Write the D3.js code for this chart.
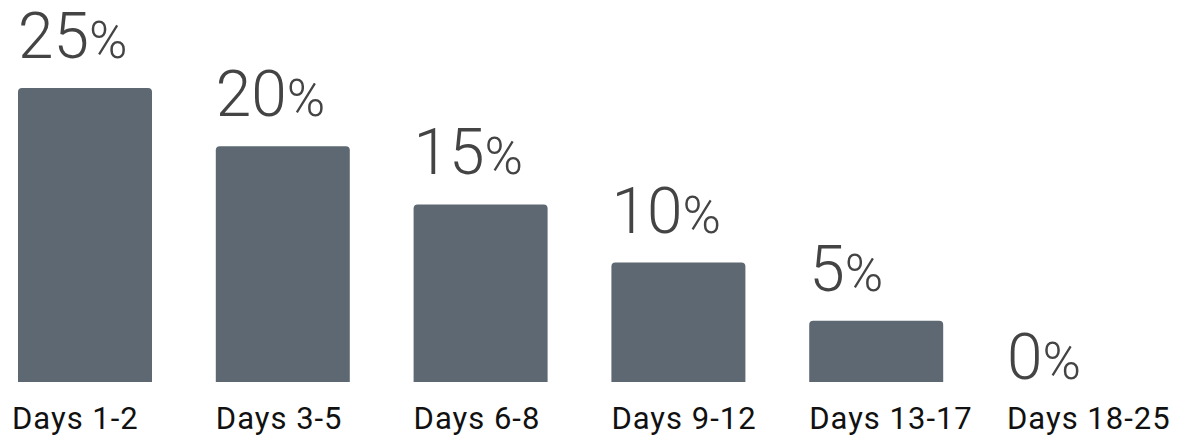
<!DOCTYPE html>
<html>
<head>
<meta charset="utf-8">
<title>Days bar chart</title>
<script src="https://cdn.jsdelivr.net/npm/d3@7/dist/d3.min.js"></script>
<style>
  body { margin: 0; background: #fff; }
  svg { display: block; font-family: Roboto, sans-serif; }
  .val { font-family: "Roboto Light", Roboto, sans-serif; font-weight: 300; }
</style>
</head>
<body>
<script>
  // data
  var categories = ["Days 1-2", "Days 3-5", "Days 6-8", "Days 9-12", "Days 13-17", "Days 18-25"];
  var values = [25, 20, 15, 10, 5, 0];

  var width = 1190, height = 436;
  var baseline = 382;

  var svg = d3.select("body").append("svg")
    .attr("width", width)
    .attr("height", height);

  var x = d3.scaleBand()
    .domain(categories)
    .range([18, 1141])
    .paddingInner(0.3226)
    .paddingOuter(0);

  var y = d3.scaleLinear()
    .domain([0, 25])
    .range([379, 88]);

  var data = categories.map(function(c, i) { return { name: c, value: values[i] }; });

  // bar with rounded top corners only
  function barPath(d) {
    var x0 = x(d.name), w = x.bandwidth(), top = y(d.value), r = 4;
    return "M" + x0 + "," + baseline +
      "V" + (top + r) +
      "Q" + x0 + "," + top + " " + (x0 + r) + "," + top +
      "H" + (x0 + w - r) +
      "Q" + (x0 + w) + "," + top + " " + (x0 + w) + "," + (top + r) +
      "V" + baseline + "Z";
  }

  svg.selectAll(".bar")
    .data(data.filter(function(d) { return d.value > 0; }))
    .enter()
    .append("path")
    .attr("class", "bar")
    .attr("d", barPath)
    .attr("fill", "#5e6873");

  // value labels
  var label = svg.selectAll(".val")
    .data(data)
    .enter()
    .append("text")
    .attr("class", "val")
    .attr("x", function(d) { return x(d.name); })
    .attr("y", function(d) { return d.value > 0 ? y(d.value) - 30 : baseline - 3; })
    .attr("fill", "#444")
    .attr("font-size", "64px");

  label.append("tspan").text(function(d) { return d.value; });
  label.append("tspan").attr("font-size", "52px").text("%");

  // category labels
  svg.selectAll(".cat")
    .data(data)
    .enter()
    .append("text")
    .attr("class", "cat")
    .attr("x", function(d, i) { return i === 0 ? x(d.name) - 6 : x(d.name); })
    .attr("y", 429)
    .attr("fill", "#111")
    .attr("font-size", "31px")
    .attr("letter-spacing", "1px")
    .text(function(d) { return d.name; });
</script>
</body>
</html>
